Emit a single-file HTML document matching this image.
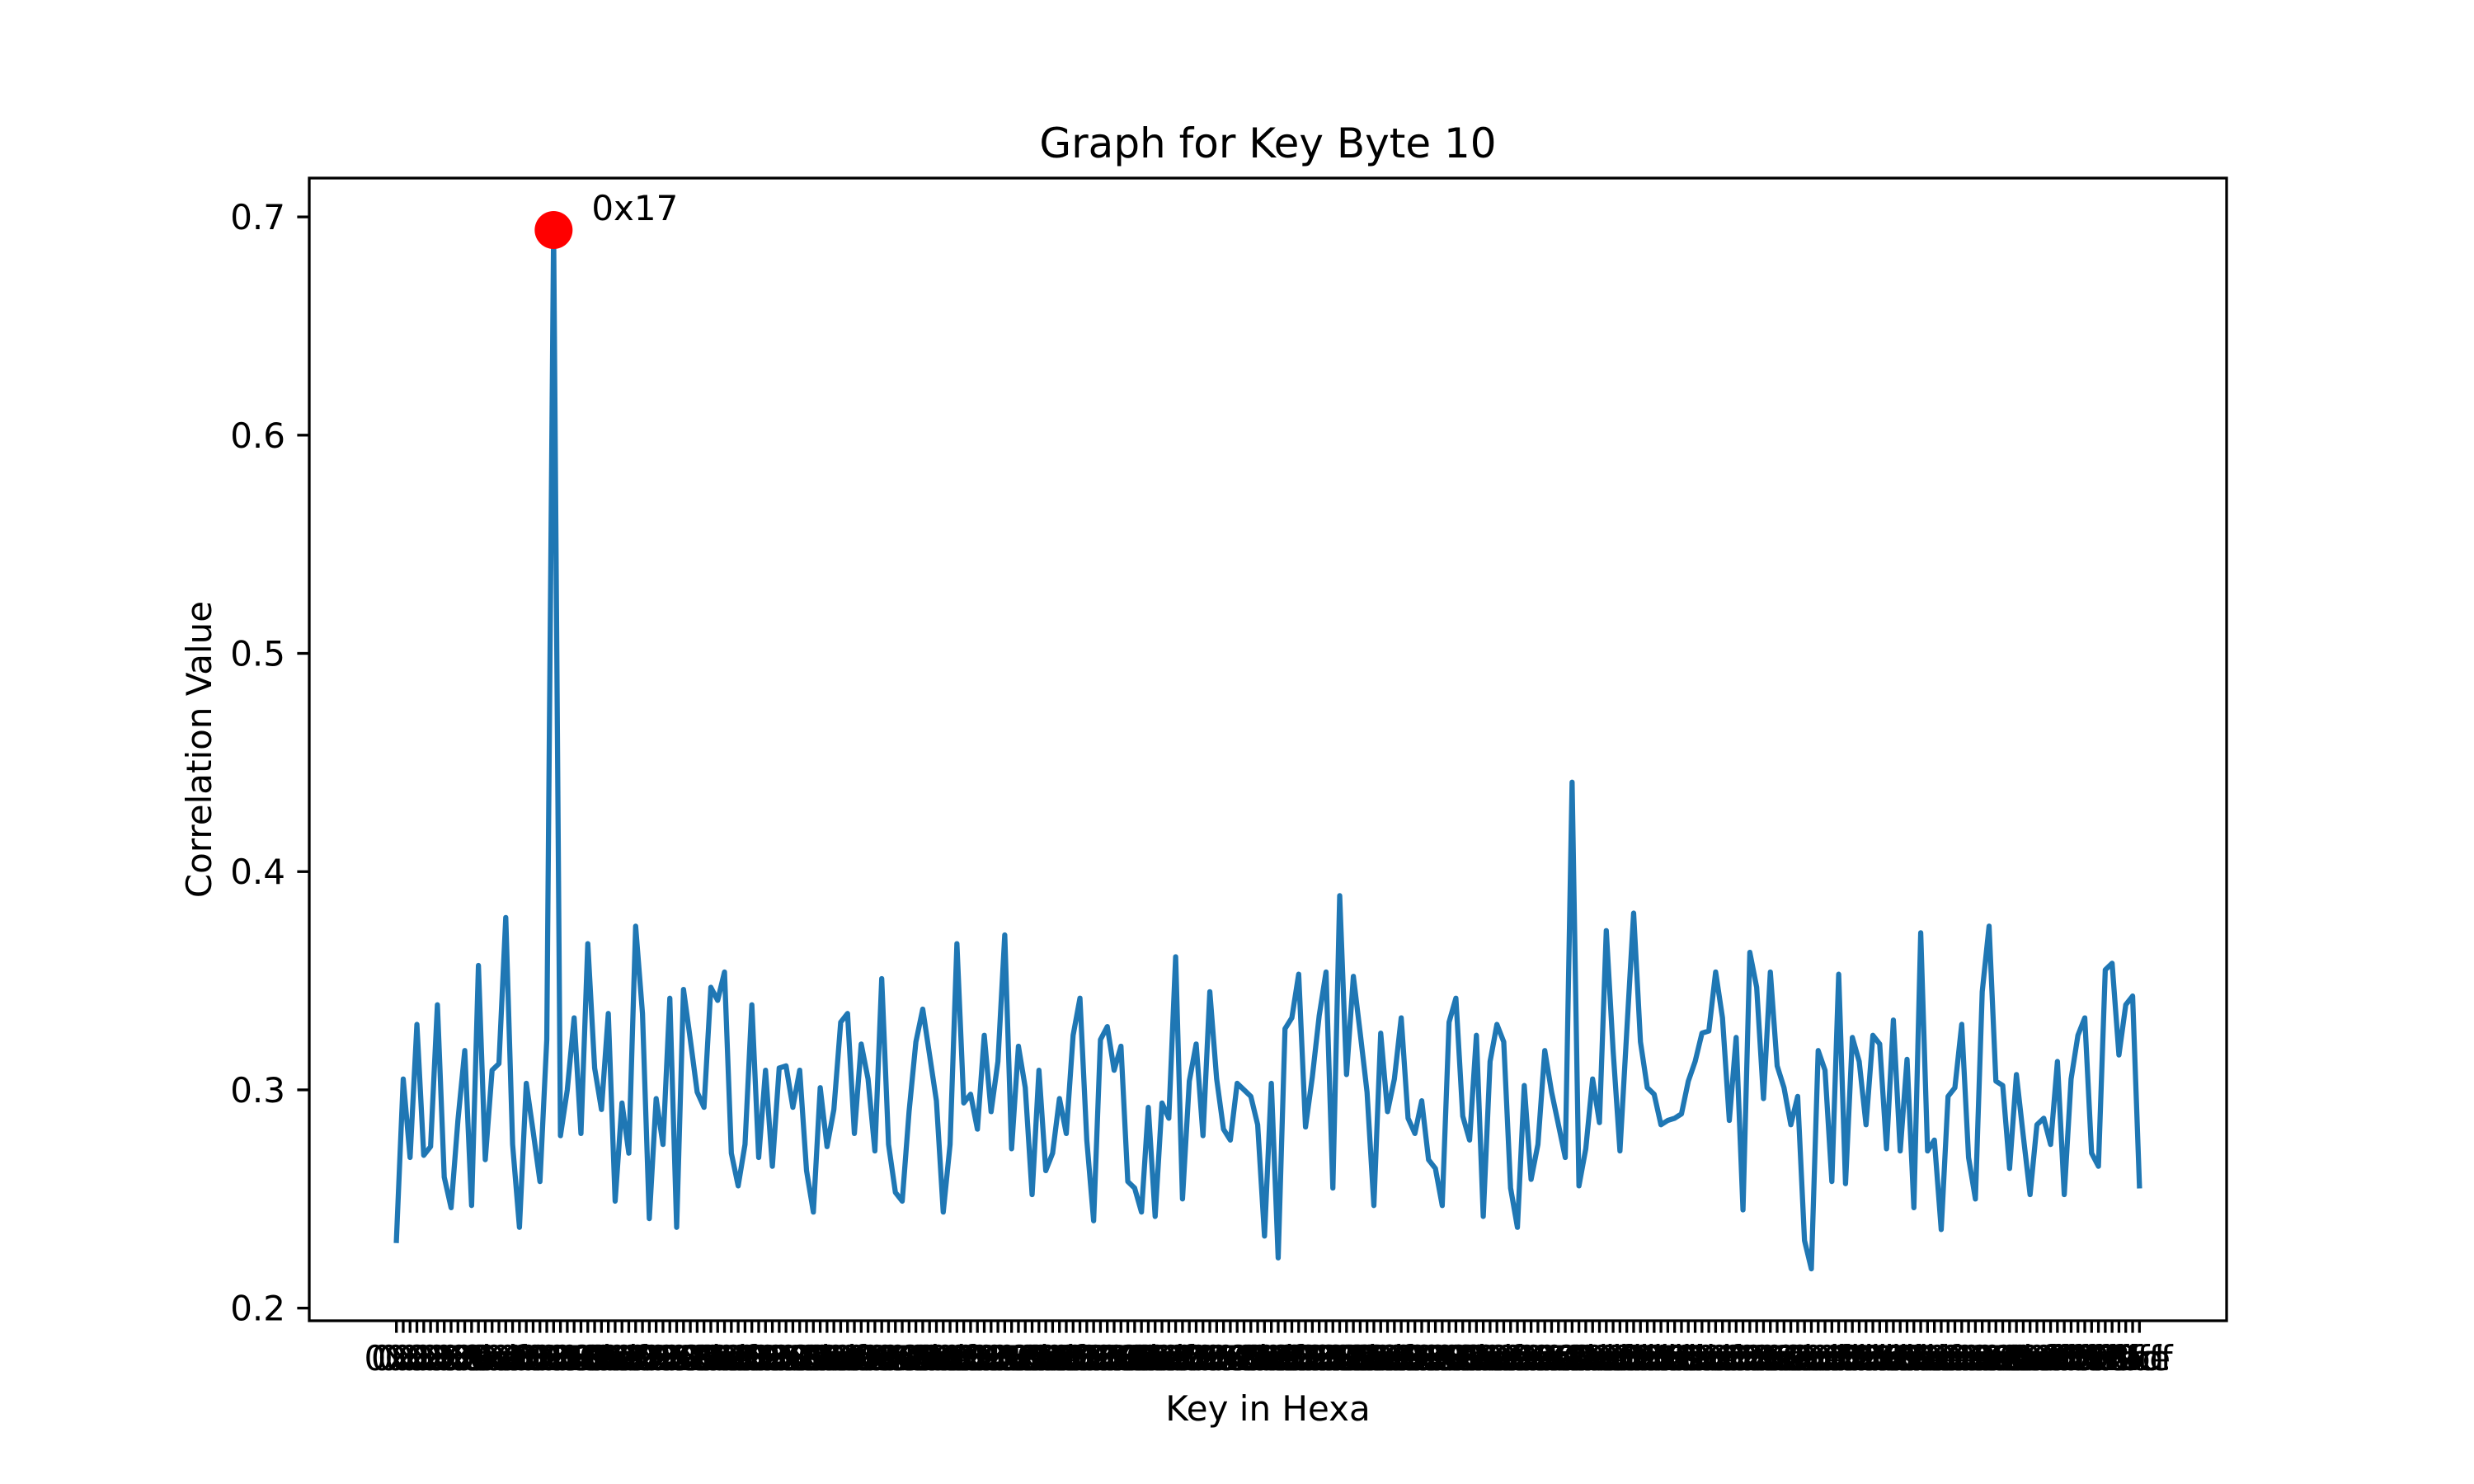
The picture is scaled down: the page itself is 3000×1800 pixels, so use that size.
<!DOCTYPE html>
<html><head><meta charset="utf-8"><style>
html,body{margin:0;padding:0;background:#fff;}
svg{display:block;font-family:"DejaVu Sans","Liberation Sans",sans-serif;}
</style></head><body>
<svg id="chart" width="3000" height="1800" viewBox="0 0 3000 1800" xmlns="http://www.w3.org/2000/svg">
<rect x="0" y="0" width="3000" height="1800" fill="#fff"/>
<text x="1537.5" y="191" text-anchor="middle" font-size="50" fill="#000">Graph for Key Byte 10</text>
<g id="xticks"></g>
<g id="yticks"></g>
<g id="plot"></g>
<rect x="375" y="216" width="2325" height="1386" fill="none" stroke="#000" stroke-width="3.3"/>
<text x="1537.5" y="1723" text-anchor="middle" font-size="42" fill="#000">Key in Hexa</text>
<text x="0" y="0" transform="translate(256,909) rotate(-90)" text-anchor="middle" font-size="42" fill="#000">Correlation Value</text>
</svg>
<script>
const values = [
.231,.305,.269,.330,.270,.274,.339,.260,.246,.286,
.318,.247,.357,.268,.309,.312,.379,.275,.237,.303,
.281,.258,.323,.694,.279,.300,.333,.280,.367,.310,
.291,.335,.249,.294,.271,.375,.335,.241,.296,.275,
.342,.237,.346,.323,.299,.292,.347,.341,.354,.271,
.256,.275,.339,.269,.309,.265,.310,.311,.292,.309,
.263,.244,.301,.274,.291,.331,.335,.280,.321,.305,
.272,.351,.275,.253,.249,.290,.322,.337,.316,.295,
.244,.275,.367,.294,.298,.282,.325,.290,.313,.371,
.273,.320,.301,.252,.309,.263,.271,.296,.280,.325,
.342,.277,.240,.323,.329,.309,.320,.258,.255,.244,
.292,.242,.294,.287,.361,.250,.304,.321,.279,.345,
.305,.282,.277,.303,.300,.297,.284,.233,.303,.223,
.328,.333,.353,.283,.306,.334,.354,.255,.389,.307,
.352,.326,.299,.247,.326,.290,.305,.333,.287,.280,
.295,.268,.264,.247,.331,.342,.288,.277,.325,.242,
.313,.330,.322,.255,.237,.302,.259,.275,.318,.299,
.284,.269,.441,.256,.273,.305,.285,.373,.318,.272,
.327,.381,.322,.301,.298,.284,.286,.287,.289,.304,
.313,.326,.327,.354,.333,.286,.324,.245,.363,.347,
.296,.354,.311,.301,.284,.297,.231,.218,.318,.309,
.258,.353,.257,.324,.313,.284,.325,.321,.273,.332,
.272,.314,.246,.372,.272,.277,.236,.297,.301,.330,
.269,.250,.345,.375,.304,.302,.264,.307,.279,.252,
.284,.287,.275,.313,.252,.305,.325,.333,.271,.265,
.355,.358,.316,.339,.343,.256];
const categories = values.map((v,i)=>'0x'+i.toString(16));
const yTicks = [0.2,0.3,0.4,0.5,0.6,0.7];
const yTickLabels = ['0.2','0.3','0.4','0.5','0.6','0.7'];

const NS='http://www.w3.org/2000/svg';
const L=375,R=2700,T=216,B=1602;
const n=values.length;
const xmin=-0.05*(n-1), xmax=(n-1)*1.05;
const vmin=Math.min(...values), vmax=Math.max(...values);
const ymin=vmin-0.05*(vmax-vmin), ymax=vmax+0.05*(vmax-vmin);
function xs(i){return L+(i-xmin)/(xmax-xmin)*(R-L);}
function ys(v){return B-(v-ymin)/(ymax-ymin)*(B-T);}
function mk(tag,attrs,parent){const e=document.createElementNS(NS,tag);for(const k in attrs)e.setAttribute(k,attrs[k]);parent.appendChild(e);return e;}

const xg=document.getElementById('xticks');
categories.forEach((c,i)=>{
  const x=xs(i);
  const t=mk('line',{x1:x,x2:x,y1:B,y2:B+14.6,stroke:'#000','stroke-width':3.3},xg);
  
  
  const lb=mk('text',{x:x,y:1662,'text-anchor':'middle','font-size':42,fill:'#000'},xg);
  lb.textContent=c;
  
  
});
const yg=document.getElementById('yticks');
yTicks.forEach((v,k)=>{
  const y=ys(v);
  const t=mk('line',{x1:L-14.6,x2:L,y1:y,y2:y,stroke:'#000','stroke-width':3.3},yg);
  
  
  const lb=mk('text',{x:L-29,y:y+15,'text-anchor':'end','font-size':42,fill:'#000'},yg);
  lb.textContent=yTickLabels[k];
  
  
});
const pg=document.getElementById('plot');
const pts=values.map((v,i)=>xs(i).toFixed(2)+','+ys(v).toFixed(2)).join(' ');
const line=mk('polyline',{points:pts,fill:'none',stroke:'#1f77b4','stroke-width':6.25,'stroke-linejoin':'round','stroke-linecap':'square'},pg);


let best=0;values.forEach((v,i)=>{if(v>values[best])best=i;});
const dot=mk('circle',{cx:xs(best),cy:ys(values[best]),r:23,fill:'#ff0000'},pg);


const ann=mk('text',{x:xs(best)+46,y:ys(values[best])-12,'font-size':42,fill:'#000'},pg);
ann.textContent=categories[best];


</script>
</body></html>
